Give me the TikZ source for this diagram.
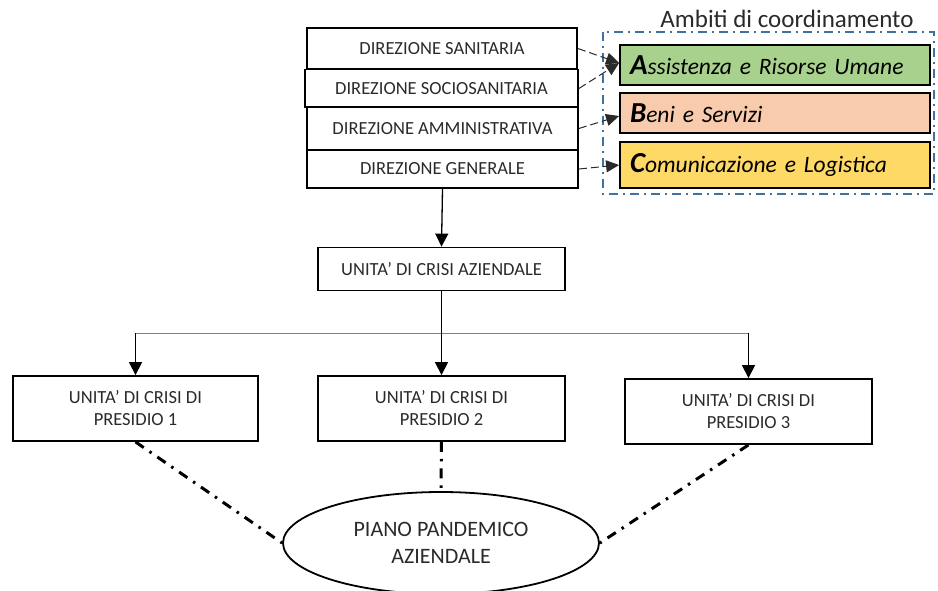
\documentclass[tikz,border=0pt]{standalone}
\usepackage{fontspec}
\setmainfont{Carlito}
\usetikzlibrary{arrows.meta,shapes.geometric}

\definecolor{verdeamb}{HTML}{A9D18E}
\definecolor{rosaamb}{HTML}{F8CBAD}
\definecolor{gialloamb}{HTML}{FFD966}
\definecolor{bluamb}{HTML}{41719C}
\definecolor{testo}{HTML}{2A2A2A}

\newcommand{\iniziale}[1]{{\fontsize{29}{29}\selectfont\bfseries #1}}

\tikzset{
  scatola/.style={draw, line width=1.8pt, inner sep=0pt, text=testo, align=center, font=\fontsize{18.5}{22}\selectfont},
  ambito/.style={draw, line width=1.8pt, minimum width=310pt, text width=290pt, align=left, inner sep=10pt, font=\fontsize{23.5}{26}\selectfont\itshape},
  freccia/.style={-{Triangle[length=13pt,width=13pt]}, line width=1.3pt},
  tratteggio/.style={dash pattern=on 8pt off 4pt, line width=1pt, draw=testo, -{Triangle[length=13pt,width=12pt]}},
  puntolinea/.style={line width=3pt, dash pattern=on 10pt off 7pt on 2.5pt off 7pt},
}

\begin{document}
\begin{tikzpicture}[x=1pt, y=-1pt]
	\useasboundingbox (0,0) rectangle (938,590);

	% direzioni
	\node[scatola, minimum width=270pt, minimum height=41pt] (san) at (442,48.5) {DIREZIONE SANITARIA};
	\node[scatola, minimum width=273pt, minimum height=38pt] (soc) at (441.5,88.5) {DIREZIONE SOCIOSANITARIA};
	\node[scatola, minimum width=271pt, minimum height=43pt] (amm) at (442.5,128.5) {DIREZIONE AMMINISTRATIVA};
	\node[scatola, minimum width=271pt, minimum height=38pt] (gen) at (442.5,169) {DIREZIONE GENERALE};

	% ambiti di coordinamento
	\node[font=\fontsize{25}{28}\selectfont, text=testo] (titolo) at (787,19) {Ambiti di coordinamento};
	\draw[bluamb, line width=2pt, dash pattern=on 9pt off 5pt on 2pt off 5pt] (603,32) rectangle (934,194);
	\node[ambito, fill=verdeamb, minimum height=40pt] (assist) at (775,65) {\iniziale{A}ssistenza e Risorse Umane};
	\node[ambito, fill=rosaamb, minimum height=40pt] (beni) at (775,113) {\iniziale{B}eni e Servizi};
	\node[ambito, fill=gialloamb, minimum height=46pt] (comun) at (775,165) {\iniziale{C}omunicazione e Logistica};

	% frecce tratteggiate verso gli ambiti
	\draw[tratteggio] (san.east) -- ([yshift=2pt]assist.west);
	\draw[tratteggio] (soc.east) -- ([yshift=2pt]assist.west);
	\draw[tratteggio] (amm.east) -- ([yshift=-3pt]beni.west);
	\draw[tratteggio] (gen.east) -- (comun.west);

	% unita' di crisi aziendale
	\node[scatola, minimum width=247pt, minimum height=43pt] (aziendale) at (441.5,269) {UNITA’ DI CRISI AZIENDALE};
	\draw[freccia] (gen.south) -- (aziendale.north);

	% unita' di crisi di presidio
	\node[scatola, minimum width=245pt, minimum height=65pt] (pres1) at (135.5,408.5) {UNITA’ DI CRISI DI\\PRESIDIO 1};
	\node[scatola, minimum width=247pt, minimum height=65pt] (pres2) at (441.5,408.5) {UNITA’ DI CRISI DI\\PRESIDIO 2};
	\node[scatola, minimum width=247pt, minimum height=65pt] (pres3) at (748.5,411.5) {UNITA’ DI CRISI DI\\PRESIDIO 3};

	% diramazione
	\coordinate (ramo) at (441.5,333);
	\draw[line width=1.3pt] (aziendale.south) -- (ramo);
	\draw[line width=1pt, gray] (ramo -| pres1) -- (ramo -| pres3);
	\draw[freccia] (ramo -| pres1) -- (pres1.north);
	\draw[freccia] (ramo) -- (pres2.north);
	\draw[freccia] (ramo -| pres3) -- (pres3.north);

	% piano pandemico
	\node[ellipse, draw, line width=1.8pt, minimum width=316pt, minimum height=102pt, inner sep=0pt, text=testo, align=center, font=\fontsize{22}{27}\selectfont] (piano) at (441,543) {PIANO PANDEMICO\\AZIENDALE};
	\draw[puntolinea] (pres1.south) -- (piano.west);
	\draw[puntolinea] (pres2.south) -- (piano.north);
	\draw[puntolinea] (pres3.south) -- (piano.east);
\end{tikzpicture}
\end{document}
